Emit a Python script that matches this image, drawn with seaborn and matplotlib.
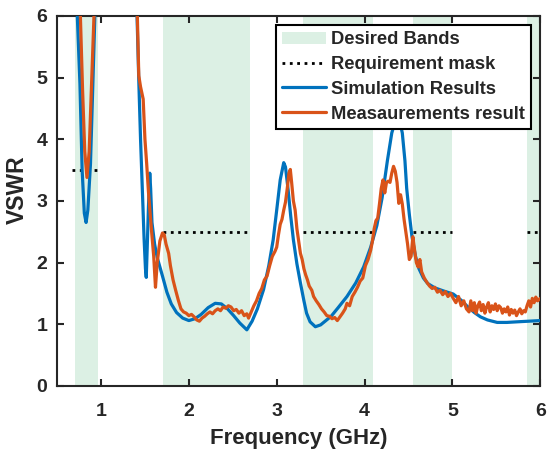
import matplotlib
matplotlib.use("Agg")
from matplotlib import pyplot as plt
import seaborn as sns

sns.set_style("ticks")
plt.rcParams['font.family'] = ['Liberation Sans', 'DejaVu Sans']
plt.rcParams['font.weight'] = 'bold'

# Desired bands (GHz) and the VSWR requirement mask over them
band_start = [0.70, 1.70, 3.30, 4.55, 5.85]
band_end = [0.96, 2.70, 4.10, 5.00, 6.00]
mask_start = [0.67, 1.70, 3.30, 4.55, 5.85]
mask_end = [0.97, 2.70, 4.10, 5.00, 6.00]
mask_level = [3.5, 2.5, 2.5, 2.5, 2.5]

# Simulation results
sim_freq = [0.70, 0.73, 0.76, 0.785, 0.81, 0.83, 0.85, 0.88, 0.905, 0.93, 0.96, 1.20,
            1.40, 1.41, 1.43, 1.45, 1.47, 1.49, 1.506, 1.515, 1.525, 1.54, 1.555, 1.565,
            1.58, 1.61, 1.64, 1.70, 1.75, 1.80, 1.86, 1.93, 2.00, 2.07, 2.14, 2.22,
            2.30, 2.37, 2.44, 2.51, 2.58, 2.66, 2.72, 2.78, 2.85, 2.91, 2.96, 3.00,
            3.04, 3.08, 3.10, 3.13, 3.16, 3.19, 3.23, 3.27, 3.31, 3.34, 3.38, 3.44,
            3.50, 3.56, 3.62, 3.70, 3.80, 3.90, 3.99, 4.07, 4.14, 4.20, 4.26, 4.31,
            4.36, 4.40, 4.43, 4.46, 4.48, 4.51, 4.54, 4.58, 4.62, 4.67, 4.72, 4.80,
            4.90, 5.01, 5.10, 5.17, 5.25, 5.32, 5.40, 5.51, 5.62, 5.74, 5.87, 6.00]
sim_vswr = [6.8, 6.0, 4.9, 3.5, 2.8, 2.65, 2.85, 3.6, 4.8, 6.0, 7.0, 8.0,
            6.3, 6.0, 4.95, 4.0, 3.2, 2.4, 1.9, 1.76, 2.2, 2.9, 3.45, 3.2,
            2.65, 2.3, 2.08, 1.78, 1.52, 1.33, 1.19, 1.10, 1.06, 1.09, 1.16, 1.27,
            1.34, 1.33, 1.25, 1.14, 1.02, 0.91, 1.05, 1.25, 1.56, 1.95, 2.37, 2.85,
            3.34, 3.62, 3.55, 3.18, 2.75, 2.37, 1.98, 1.67, 1.38, 1.18, 1.04, 0.96,
            0.99, 1.06, 1.13, 1.27, 1.45, 1.67, 1.93, 2.25, 2.60, 3.05, 3.65, 4.10,
            4.35, 4.30, 4.10, 3.65, 3.20, 2.78, 2.42, 2.10, 1.90, 1.75, 1.66, 1.59,
            1.54, 1.49, 1.39, 1.29, 1.19, 1.12, 1.07, 1.03, 1.03, 1.04, 1.05, 1.06]

# Measurement results
meas_freq = [0.74, 0.765, 0.79, 0.815, 0.84, 0.865, 0.89, 0.92, 0.95, 1.20,
             1.41, 1.42, 1.43, 1.45, 1.48, 1.50, 1.52, 1.54, 1.57, 1.60, 1.62, 1.64,
             1.67, 1.70, 1.72, 1.74, 1.77, 1.79, 1.82, 1.85, 1.88, 1.91, 1.94, 1.97,
             2.00, 2.03, 2.06, 2.09, 2.12, 2.15, 2.18, 2.21, 2.24, 2.27, 2.30, 2.33,
             2.36, 2.39, 2.42, 2.45, 2.48, 2.51, 2.54, 2.57, 2.60, 2.63, 2.66, 2.68,
             2.71, 2.74, 2.77, 2.80, 2.83, 2.86, 2.89, 2.92, 2.95, 2.98, 3.00, 3.02,
             3.04, 3.06, 3.08, 3.10, 3.12, 3.14, 3.155, 3.17, 3.19, 3.21, 3.23, 3.25,
             3.27, 3.29, 3.31, 3.33, 3.35, 3.37, 3.40, 3.42, 3.45, 3.48, 3.51, 3.54,
             3.57, 3.60, 3.63, 3.66, 3.69, 3.72, 3.75, 3.78, 3.80, 3.83, 3.86, 3.89,
             3.92, 3.95, 3.98, 4.01, 4.04, 4.07, 4.09, 4.11, 4.13, 4.15, 4.17, 4.19,
             4.21, 4.23, 4.25, 4.27, 4.29, 4.31, 4.33, 4.35, 4.37, 4.39, 4.41, 4.43,
             4.45, 4.47, 4.49, 4.51, 4.53, 4.55, 4.57, 4.59, 4.61, 4.63, 4.65, 4.68,
             4.71, 4.74, 4.77, 4.80, 4.83, 4.86, 4.89, 4.92, 4.95, 4.98, 5.01, 5.04,
             5.07, 5.10, 5.13, 5.16, 5.19, 5.21, 5.23, 5.25, 5.27, 5.29, 5.31, 5.33,
             5.35, 5.37, 5.39, 5.41, 5.43, 5.45, 5.47, 5.49, 5.51, 5.53, 5.55, 5.57,
             5.59, 5.61, 5.63, 5.65, 5.67, 5.69, 5.71, 5.73, 5.75, 5.77, 5.79, 5.81,
             5.83, 5.85, 5.87, 5.89, 5.91, 5.93, 5.95, 5.97, 6.00]
meas_vswr = [7.0, 6.0, 4.8, 3.8, 3.38, 3.8, 4.8, 6.0, 7.0, 8.0,
             6.2, 5.6, 5.03, 4.85, 4.65, 4.0, 3.6, 3.15, 2.6, 2.1, 1.6, 2.0,
             2.35, 2.48, 2.45, 2.3, 2.15, 1.95, 1.72, 1.55, 1.39, 1.25, 1.2, 1.18,
             1.14, 1.16, 1.12, 1.07, 1.05, 1.1, 1.13, 1.17, 1.2, 1.17, 1.22, 1.25,
             1.22, 1.28, 1.26, 1.3, 1.28, 1.22, 1.24, 1.18, 1.22, 1.14, 1.17, 1.1,
             1.2, 1.3, 1.38, 1.5, 1.58, 1.72, 1.78, 1.95, 2.1, 2.18, 2.25, 2.45,
             2.62, 2.7, 2.85, 2.98, 3.2, 3.45, 3.51, 3.3, 3.0, 2.85, 2.55, 2.35,
             2.15, 2.05, 1.9, 1.8, 1.72, 1.62, 1.55, 1.45, 1.38, 1.32, 1.25, 1.2,
             1.14, 1.13, 1.09, 1.11, 1.06, 1.12, 1.18, 1.25, 1.34, 1.3, 1.45, 1.52,
             1.6, 1.7, 1.75, 1.95, 2.05, 2.2, 2.35, 2.55, 2.68, 2.72, 2.95, 3.2,
             3.34, 3.13, 3.3, 3.32, 3.3, 3.45, 3.56, 3.48, 3.3, 2.96, 3.1, 2.95,
             2.7, 2.5, 2.3, 2.05, 2.1, 2.42, 2.2, 2.0, 1.93, 2.05, 1.85, 1.75,
             1.68, 1.62, 1.58, 1.6, 1.52, 1.55, 1.48, 1.53, 1.45, 1.5, 1.42, 1.35,
             1.45, 1.3, 1.38, 1.25, 1.2, 1.38, 1.22, 1.35, 1.18, 1.3, 1.36, 1.22,
             1.32, 1.18, 1.28, 1.35, 1.2, 1.3, 1.24, 1.33, 1.22, 1.3, 1.27, 1.18,
             1.25, 1.2, 1.28, 1.15, 1.24, 1.18, 1.23, 1.14, 1.2, 1.25, 1.17, 1.22,
             1.2, 1.3, 1.38, 1.28, 1.42, 1.35, 1.44, 1.38, 1.42]

band_color = '#dcf0e4'
sim_color = '#0072BD'
meas_color = '#D95319'

fig, ax = plt.subplots(figsize=(5.49, 4.53), dpi=100)
fig.subplots_adjust(left=0.104, right=0.984, bottom=0.148, top=0.965)

for i, (s, e) in enumerate(zip(band_start, band_end)):
    ax.axvspan(s, e, color=band_color, lw=0, zorder=0,
               label='Desired Bands' if i == 0 else None)

for i, (s, e, lv) in enumerate(zip(mask_start, mask_end, mask_level)):
    ax.plot([s, e], [lv, lv], color='black', linestyle=':', linewidth=2,
            label='Requirement mask' if i == 0 else None, zorder=3)

sns.lineplot(x=sim_freq, y=sim_vswr, color=sim_color, linewidth=2.3,
             sort=False, label='Simulation Results', ax=ax, zorder=4)
sns.lineplot(x=meas_freq, y=meas_vswr, color=meas_color, linewidth=2.3,
             sort=False, label='Measaurements result', ax=ax, zorder=5)

ax.set_xlim(0.5, 6)
ax.set_ylim(0, 6)
ax.set_xticks([1, 2, 3, 4, 5, 6])
ax.set_yticks([0, 1, 2, 3, 4, 5, 6])
ax.tick_params(direction='in', top=True, right=True, length=5, width=1.5,
               labelsize=14, pad=7)
ax.tick_params(axis='x', pad=12)
for lab in ax.get_xticklabels() + ax.get_yticklabels():
    lab.set_fontweight('bold')
for sp in ax.spines.values():
    sp.set_linewidth(1.5)
    sp.set_color('#262626')
    sp.set_visible(True)

ax.set_xlabel('Frequency (GHz)', fontsize=16, fontweight='bold', labelpad=6)
ax.set_ylabel('VSWR', fontsize=16.5, fontweight='bold', labelpad=2)
ax.yaxis.set_label_coords(-0.058, 0.53)

leg = ax.legend(loc='upper right', fontsize=13.2, frameon=True, fancybox=False,
                framealpha=1, edgecolor='black', handlelength=2.4,
                handletextpad=0.25, borderpad=0.35, labelspacing=0.42,
                borderaxespad=0.5)
leg.get_frame().set_linewidth(1.5)
leg.set_zorder(10)

plt.savefig('out.png', dpi=100)
